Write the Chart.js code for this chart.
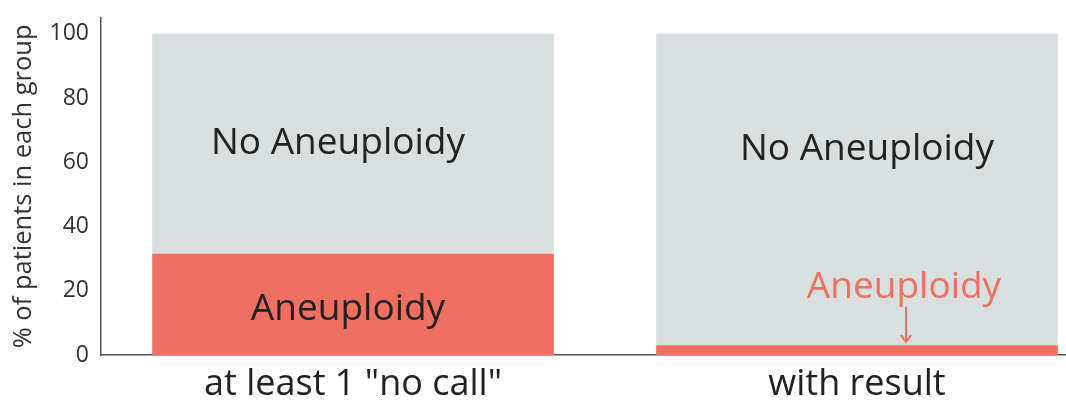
<!DOCTYPE html>
<html>
<head>
<meta charset="utf-8">
<script src="https://cdn.jsdelivr.net/npm/chart.js@4.4.1/dist/chart.umd.min.js"></script>
<style>
  html, body { margin: 0; padding: 0; background: #fff; overflow: hidden; }
  #wrap { width: 1109px; height: 400px; }
</style>
</head>
<body>
<div id="wrap"><canvas id="chart" width="1109" height="400"></canvas></div>
<script>
var categories = ['at least 1 "no call"', 'with result'];
var aneuploidy = [31.5, 3];
var noAneuploidy = [68.5, 97];
var yTicks = [0, 20, 40, 60, 80, 100];

var redColor = '#ef6f60';
var greyColor = '#d9dfdf';
var fontFamily = '"Open Sans", Lato, sans-serif';

// labels written inside the bars
var barLabels = {
    id: 'barLabels',
    afterDatasetsDraw: function (chart) {
        var ctx = chart.ctx;
        var y = chart.scales.y;
        var redBars = chart.getDatasetMeta(0).data;
        var greyBars = chart.getDatasetMeta(1).data;
        ctx.save();
        ctx.font = '37px ' + fontFamily;
        ctx.textAlign = 'center';
        ctx.textBaseline = 'middle';

        // left bar
        ctx.fillStyle = '#222';
        ctx.fillText('No Aneuploidy', greyBars[0].x - 15, (greyBars[0].y + greyBars[0].base) / 2);
        ctx.fillText('Aneuploidy', redBars[0].x - 5, y.getPixelForValue(aneuploidy[0] * 0.45));

        // right bar
        ctx.fillText('No Aneuploidy', greyBars[1].x + 10, y.getPixelForValue(64));
        ctx.fillStyle = redColor;
        var ax = redBars[1].x + 49;
        ctx.fillText('Aneuploidy', ax - 2, y.getPixelForValue(21));

        // arrow
        ctx.strokeStyle = redColor;
        ctx.lineWidth = 2;
        var top = y.getPixelForValue(15);
        var tip = y.getPixelForValue(aneuploidy[1] + 1);
        ctx.beginPath();
        ctx.moveTo(ax, top);
        ctx.lineTo(ax, tip);
        ctx.moveTo(ax - 5, tip - 7);
        ctx.lineTo(ax, tip);
        ctx.lineTo(ax + 5, tip - 7);
        ctx.stroke();
        ctx.restore();
    }
};

new Chart(document.getElementById('chart').getContext('2d'), {
    type: 'bar',
    data: {
        labels: categories,
        datasets: [
            { label: 'Aneuploidy', data: aneuploidy, backgroundColor: redColor, barPercentage: 0.797, categoryPercentage: 1 },
            { label: 'No Aneuploidy', data: noAneuploidy, backgroundColor: greyColor, barPercentage: 0.797, categoryPercentage: 1 }
        ]
    },
    options: {
        responsive: false,
        animation: false,
        layout: { padding: { top: -2, left: 8, right: 0, bottom: 0 } },
        plugins: {
            legend: { display: false },
            tooltip: { enabled: false }
        },
        scales: {
            x: {
                stacked: true,
                grid: { display: false },
                border: { display: true, color: '#555', width: 1.5 },
                afterFit: function (axis) { axis.height = 45; },
                ticks: { color: '#222', font: { family: fontFamily, size: 36 }, padding: 0 }
            },
            y: {
                stacked: true,
                min: 0,
                max: 105,
                grid: { display: false },
                border: { display: true, color: '#555', width: 1.5 },
                afterBuildTicks: function (axis) {
                    axis.ticks = yTicks.map(function (v) { return { value: v }; });
                },
                afterFit: function (axis) { axis.width = 93; },
                ticks: { color: '#333', font: { family: fontFamily, size: 23 }, padding: 4 },
                title: {
                    display: true,
                    text: '% of patients in each group',
                    color: '#333',
                    font: { family: fontFamily, size: 25.5 },
                    padding: 0
                }
            }
        }
    },
    plugins: [barLabels]
});
</script>
</body>
</html>
